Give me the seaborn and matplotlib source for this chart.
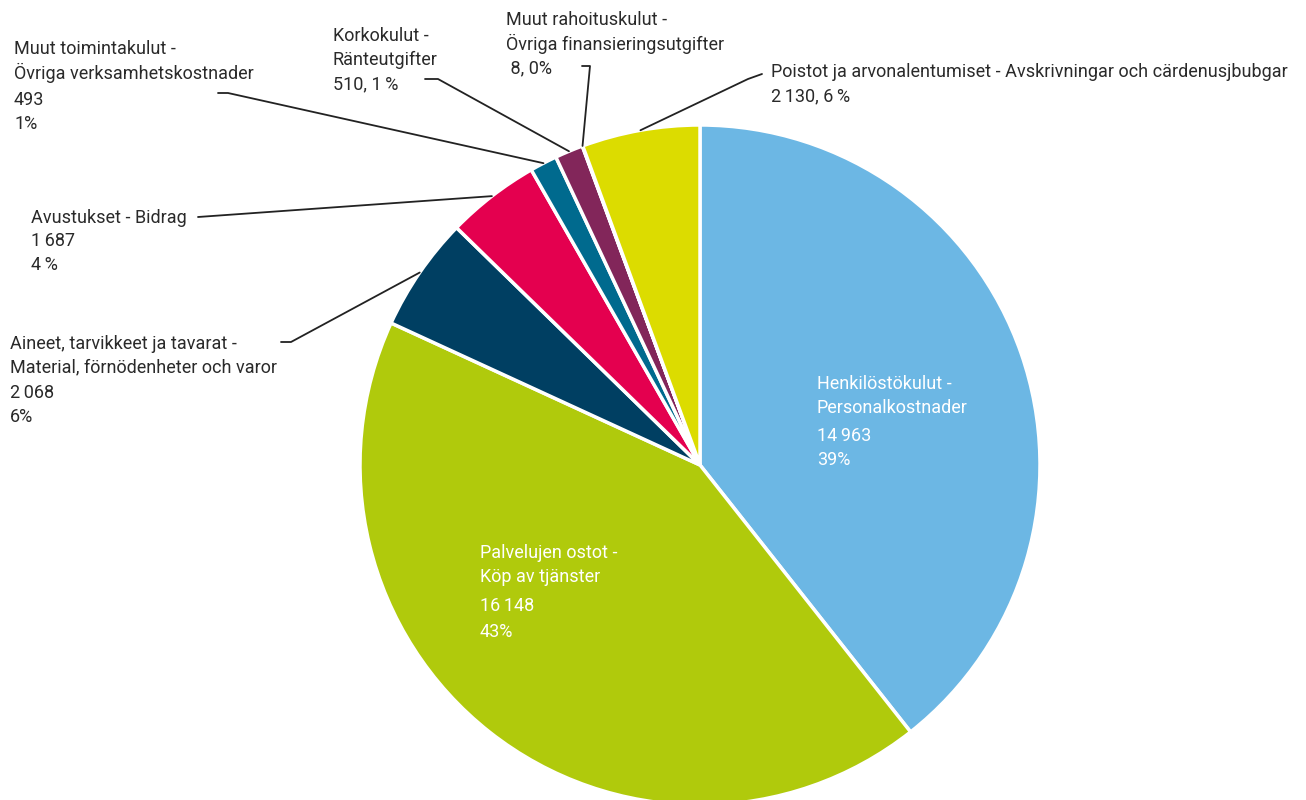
import matplotlib
matplotlib.use("Agg")
import matplotlib.pyplot as plt
import numpy as np
import seaborn as sns

# data, clockwise from 12 o'clock
names_fi = ["Henkilöstökulut -", "Palvelujen ostot -", "Aineet, tarvikkeet ja tavarat -",
            "Avustukset - Bidrag", "Muut toimintakulut -", "Korkokulut -",
            "Muut rahoituskulut -", "Poistot ja arvonalentumiset - Avskrivningar och cärdenusjbubgar"]
names_sv = ["Personalkostnader", "Köp av tjänster", "Material, förnödenheter och varor",
            "", "Övriga verksamhetskostnader", "Ränteutgifter",
            "Övriga finansieringsutgifter", ""]
values = [14963, 16148, 2068, 1687, 493, 510, 8, 2130]
value_labels = ["14\u2009963", "16\u2009148", "2\u2009068", "1\u2009687", "493",
                "510, 1\u2009%", " 8, 0%", "2\u2009130, 6\u2009%"]
pct_labels = ["39%", "43%", "6%", "4\u2009%", "1%", "", "", ""]
colors = ["#6cb7e4", "#b0ca0c", "#003f62", "#e4004f", "#006a8e", "#82265a", "#82265a", "#dcdc00"]

W, H = 1306, 800
sns.set_theme(style="white")
plt.rcParams['font.family'] = ['Roboto', 'DejaVu Sans']

fig = plt.figure(figsize=(W / 100, H / 100), dpi=100)
ax = fig.add_axes([0, 0, 1, 1])

cx, cy, r = 700, 465, 340
wedges, _ = ax.pie(values, colors=sns.color_palette(colors), startangle=90, counterclock=False,
                   center=(cx, H - cy), radius=r,
                   wedgeprops=dict(edgecolor="white", linewidth=2.5))
ax.set_xlim(0, W)
ax.set_ylim(0, H)
ax.set_aspect("equal")
ax.axis("off")

def put_lines(x, ys, lines, color="#2a2a2a"):
    for y, t in zip(ys, lines):
        if t:
            ax.text(x, H - y, t, fontsize=13, color=color, va="center", ha="left")

# label layout: x, line y's, colour
layout = {
    0: (817, [384, 408, 436, 460], "white"),
    1: (480, [553, 577, 606, 632], "white"),
    2: (10, [344, 367, 393, 417], "#2a2a2a"),
    3: (31, [218, 241, 265], "#2a2a2a"),
    4: (14, [49, 73, 100, 124], "#2a2a2a"),
    5: (333, [36, 60, 84], "#2a2a2a"),
    6: (506, [20, 44, 68], "#2a2a2a"),
    7: (771, [72, 96], "#2a2a2a"),
}
for i, (x, ys, col) in layout.items():
    lines = [names_fi[i]]
    if names_sv[i]:
        lines.append(names_sv[i])
    lines.append(value_labels[i])
    if pct_labels[i]:
        lines.append(pct_labels[i])
    put_lines(x, ys, lines, col)

# leader lines from slice middle to label
elbows = {
    2: [(281, 342), (291, 342)],
    3: [(198, 217)],
    4: [(218, 93), (228, 93)],
    5: [(425, 79), (438, 79)],
    6: [(582, 66), (590, 66)],
    7: [(762, 74), (748, 79)],
}
for i, pts in elbows.items():
    w = wedges[i]
    mid = np.deg2rad((w.theta1 + w.theta2) / 2)
    ax_pt = (cx + r * np.cos(mid), H - cy + r * np.sin(mid))
    xs = [p[0] for p in pts] + [ax_pt[0]]
    ys = [H - p[1] for p in pts] + [ax_pt[1]]
    ax.plot(xs, ys, color="#222222", lw=1.3)

fig.savefig("out.png", dpi=100, facecolor="white")
